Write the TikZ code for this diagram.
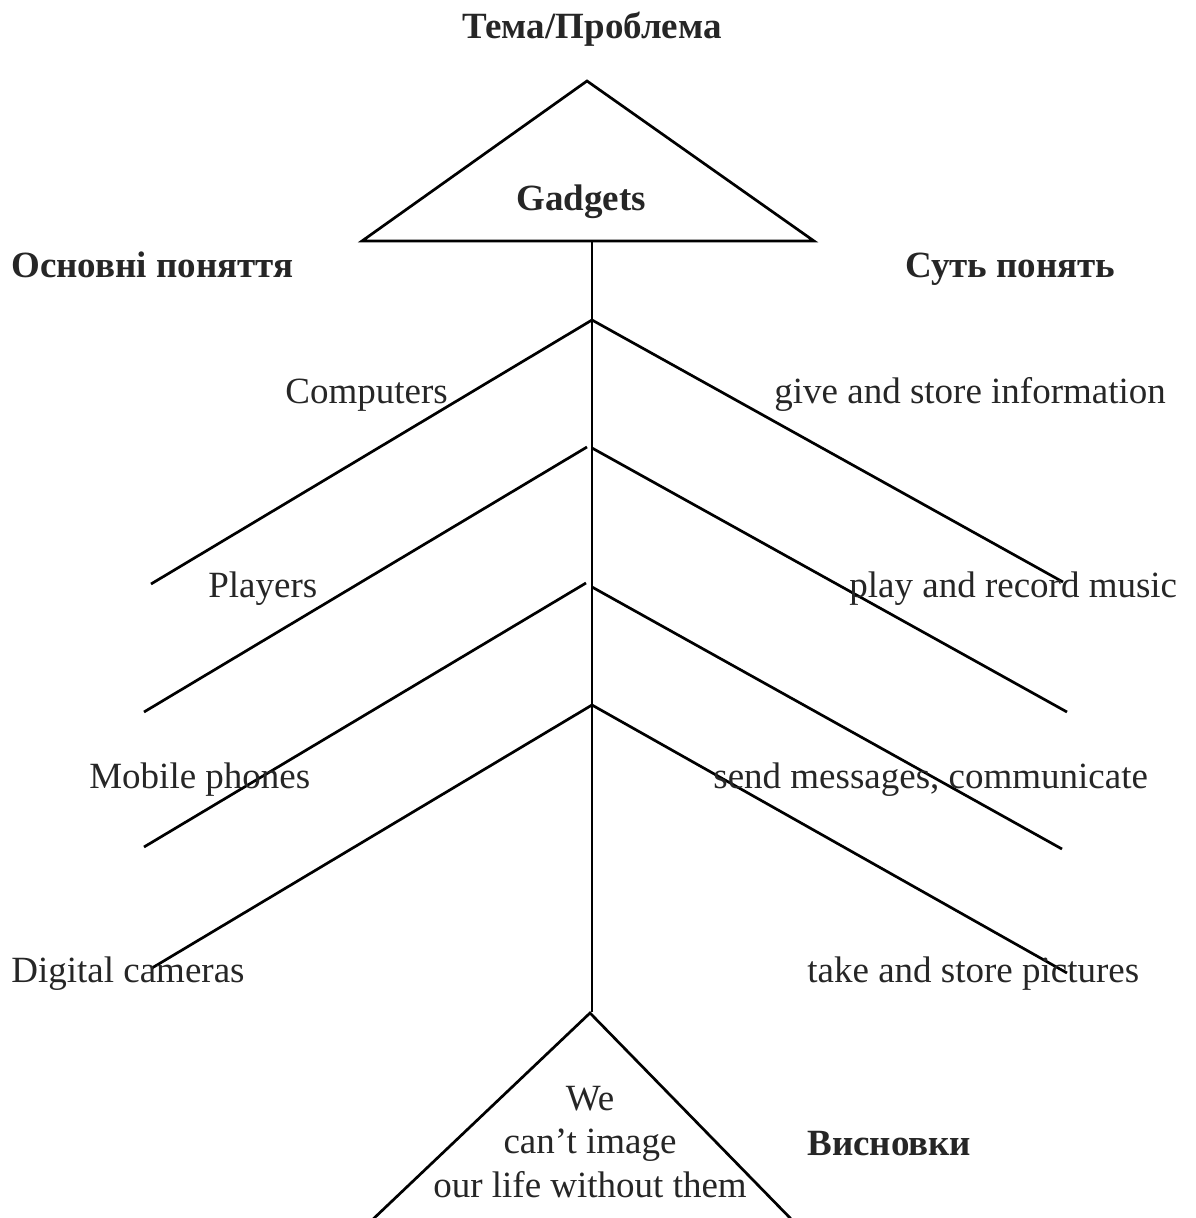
\documentclass[tikz,border=0pt]{standalone}
\usepackage{fontspec}
\setmainfont{Liberation Serif}

\begin{document}
\begin{tikzpicture}[x=1pt, y=-1pt, line width=2.7pt,
      every node/.style = {inner sep=0pt, text=black!85,
        font=\fontsize{37}{43.5}\selectfont},
      heading/.style = {font=\fontsize{37}{43.5}\selectfont\bfseries}]
  \useasboundingbox (0,0) rectangle (1195,1218);

  % head and tail of the fish
  \coordinate (apex) at (587,81);
  \coordinate (headl) at (362,241);
  \coordinate (headr) at (814,241);
  \coordinate (spinetop) at (592,241);
  \coordinate (tail) at (590,1013);
  \coordinate (taill) at (370,1222);
  \coordinate (tailr) at (794,1222);
  \draw (apex) -- (headl) -- (headr) -- cycle;
  \draw (spinetop) -- (592,1012) coordinate (spinebot);
  \draw (taill) -- (tail) -- (tailr);

  % bones
  \coordinate (j1l) at (592,320);  \coordinate (e1l) at (151,584);
  \coordinate (j1r) at (592,320);  \coordinate (e1r) at (1063,582);
  \coordinate (j2l) at (587,447);  \coordinate (e2l) at (144,712);
  \coordinate (j2r) at (592,448);  \coordinate (e2r) at (1067,712);
  \coordinate (j3l) at (586,583);  \coordinate (e3l) at (144,847);
  \coordinate (j3r) at (592,587);  \coordinate (e3r) at (1062,849);
  \coordinate (j4l) at (592,705);  \coordinate (e4l) at (152,968);
  \coordinate (j4r) at (592,705);  \coordinate (e4r) at (1067,973);
  \foreach \i in {1,...,4} {
    \draw (j\i l) -- (e\i l);
    \draw (j\i r) -- (e\i r);
  }

  \node[heading, anchor=base] (theme) at (592,38) {Тема/Проблема};
  \node[heading, anchor=base] (gadgets) at (581,210) {Gadgets};
  \node[heading, anchor=base west] (concepts) at (10,277) {Основні поняття};
  \node[heading, anchor=base west] (essence) at (904,277) {Суть понять};

  \node[anchor=base west] (computers) at (284,403) {Computers};
  \node[anchor=base west] (info) at (773,403) {give and store information};
  \node[anchor=base west] (players) at (207,597) {Players};
  \node[anchor=base west] (music) at (848,597) {play and record music};
  \node[anchor=base west] (mobile) at (88,788) {Mobile phones};
  \node[anchor=base west] (messages) at (712,788) {send messages, communicate};
  \node[anchor=base west] (cameras) at (10,982) {Digital cameras};
  \node[anchor=base west] (pictures) at (806,982) {take and store pictures};

  % last line sits on the base anchor
  \node[align=center, anchor=base] (result) at (590,1197)
    {We\\can’t image\\our life without them};
  \node[heading, anchor=base west] (conclusion) at (806,1155) {Висновки};
\end{tikzpicture}
\end{document}
